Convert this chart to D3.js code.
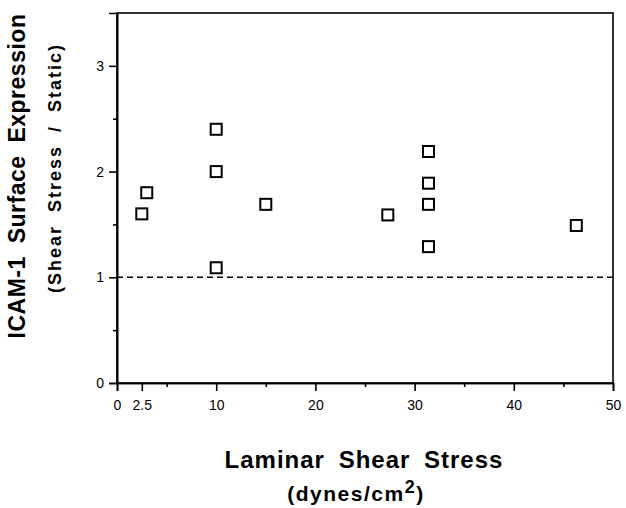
<!DOCTYPE html>
<html>
<head>
<meta charset="utf-8">
<script src="https://cdn.jsdelivr.net/npm/d3@7"></script>
<style>
  body { margin: 0; background: #fff; }
  text { font-family: "Liberation Sans", Arial, Helvetica, sans-serif; }
</style>
</head>
<body>
<svg id="canvas"></svg>
<script>
// data
let shear = [2.5, 3, 10, 10, 10, 15, 27.3, 31.4, 31.4, 31.4, 31.4, 46.3];
let ratio = [1.6, 1.8, 2.4, 2.0, 1.09, 1.69, 1.59, 2.19, 1.89, 1.69, 1.29, 1.49];
let xTicks = [0, 2.5, 10, 20, 30, 40, 50];
let xMinor = [5, 15, 25, 35, 45];
let yTicks = [0, 1, 2, 3];
let yMinor = [0.5, 1.5, 2.5];
let baseline = 1;

let width = 626;
let height = 508;
let padLeft = 117, padRight = 613, padTop = 13, padBottom = 383;

let canvas = d3.select('#canvas');
canvas.attr('width', width).attr('height', height);

let xScale = d3.scaleLinear().domain([0, 50]).range([padLeft, padRight]);
let yScale = d3.scaleLinear().domain([0, 3.5]).range([padBottom, padTop]);

// frame
canvas.append('rect').
attr('x', padLeft).
attr('y', padTop).
attr('width', padRight - padLeft).
attr('height', padBottom - padTop).
attr('fill', 'none').
attr('stroke', '#000').
attr('stroke-width', 1.6);

let xAxis = d3.axisBottom(xScale).
tickValues(xTicks).
tickFormat(d => d).
tickSizeOuter(0).
tickSize(8).
tickPadding(9);

canvas.append('g').
attr('transform', 'translate(0,' + padBottom + ')').
call(xAxis);

canvas.append('g').
attr('transform', 'translate(0,' + padBottom + ')').
call(d3.axisBottom(xScale).tickValues(xMinor).tickFormat('').tickSize(4).tickSizeOuter(0));

let yAxis = d3.axisLeft(yScale).
tickValues(yTicks).
tickFormat(d3.format('d')).
tickSizeOuter(0).
tickSize(8).
tickPadding(5);

canvas.append('g').
attr('transform', 'translate(' + padLeft + ',0)').
call(yAxis);

canvas.append('g').
attr('transform', 'translate(' + padLeft + ',0)').
call(d3.axisLeft(yScale).tickValues(yMinor).tickFormat('').tickSize(4).tickSizeOuter(0));

canvas.selectAll('.domain').attr('stroke', '#000').attr('stroke-width', 1.6);
canvas.selectAll('.tick line').attr('stroke', '#000').attr('stroke-width', 1.6);
canvas.selectAll('.tick text').
attr('fill', '#000').
style('font-size', '14px').
style('font-family', '"Liberation Sans", Arial, sans-serif');

// dashed reference line at 1
canvas.append('line').
attr('x1', xScale(0)).
attr('x2', xScale(50)).
attr('y1', yScale(baseline)).
attr('y2', yScale(baseline)).
attr('stroke', '#000').
attr('stroke-width', 1.5).
attr('stroke-dasharray', '6,4');

// open square markers
let size = 11;
canvas.selectAll('rect.pt').
data(shear).
enter().
append('rect').
attr('class', 'pt').
attr('x', (d, i) => xScale(d) - size / 2).
attr('y', (d, i) => yScale(ratio[i]) - size / 2).
attr('width', size).
attr('height', size).
attr('fill', '#fff').
attr('stroke', '#000').
attr('stroke-width', 2);

// axis titles
canvas.append('text').
attr('x', 364).
attr('y', 468).
attr('text-anchor', 'middle').
style('font-size', '24px').
style('font-weight', 'bold').
style('letter-spacing', '1px').
style('word-spacing', '6px').
text('Laminar Shear Stress');

let unit = canvas.append('text').
attr('x', 356).
attr('y', 501).
attr('text-anchor', 'middle').
style('font-size', '21px').
style('font-weight', 'bold').
style('letter-spacing', '1.5px');
unit.append('tspan').text('(dynes/cm');
unit.append('tspan').attr('dy', -8).style('font-size', '18px').text('2');
unit.append('tspan').attr('dy', 8).text(')');

canvas.append('text').
attr('transform', 'translate(25,176) rotate(-90)').
attr('text-anchor', 'middle').
style('font-size', '23px').
style('font-weight', 'bold').
style('letter-spacing', '0.5px').
style('word-spacing', '6px').
text('ICAM-1 Surface Expression');

canvas.append('text').
attr('transform', 'translate(61,168) rotate(-90)').
attr('text-anchor', 'middle').
style('font-size', '18px').
style('font-weight', 'bold').
style('letter-spacing', '2px').
style('word-spacing', '6px').
text('(Shear Stress / Static)');
</script>
</body>
</html>
